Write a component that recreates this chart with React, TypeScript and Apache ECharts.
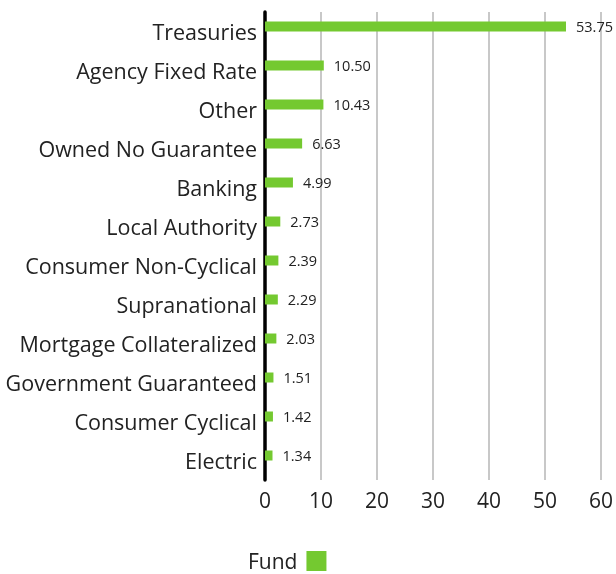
import React, { useEffect, useRef } from "react";
import * as echarts from "echarts";

const categories = [
  "Treasuries",
  "Agency Fixed Rate",
  "Other",
  "Owned No Guarantee",
  "Banking",
  "Local Authority",
  "Consumer Non-Cyclical",
  "Supranational",
  "Mortgage Collateralized",
  "Government Guaranteed",
  "Consumer Cyclical",
  "Electric",
];
const fundValues = [53.75, 10.5, 10.43, 6.63, 4.99, 2.73, 2.39, 2.29, 2.03, 1.51, 1.42, 1.34];
const xTicks = { min: 0, max: 60, interval: 10 };

const GREEN = "#74c930";
const FONT = "Open Sans";

export default function App() {
  const ref = useRef<HTMLDivElement>(null);
  useEffect(() => {
    if (!ref.current) return;
    const chart = echarts.init(ref.current, null, { renderer: "svg" });
    chart.setOption({
      animation: false,
      textStyle: { fontFamily: FONT },
      grid: { left: 265, right: 12.6, top: 12, bottom: 94, containLabel: false },
      legend: {
        data: ["Fund"],
        left: 248,
        top: 550,
        padding: 0,
        align: "right",
        itemWidth: 20,
        itemHeight: 20,
        itemGap: 8,
        icon: "rect",
        textStyle: { fontSize: 21, color: "#222", fontFamily: FONT, lineHeight: 20, padding: [2, 4, 0, 0] },
      },
      xAxis: {
        type: "value",
        min: xTicks.min,
        max: xTicks.max,
        interval: xTicks.interval,
        axisLine: { show: false },
        axisTick: { show: false },
        axisLabel: { fontSize: 21, color: "#222", margin: 9, fontFamily: FONT },
        splitLine: { show: true, lineStyle: { color: "#c8c8c8", width: 2 } },
      },
      yAxis: {
        type: "category",
        inverse: true,
        data: categories,
        axisLine: { show: true, lineStyle: { color: "#000", width: 3.5 } },
        axisTick: { show: false },
        axisLabel: { fontSize: 21.5, color: "#222", margin: 8, fontFamily: FONT },
        splitLine: { show: false },
      },
      series: [
        {
          name: "Fund",
          type: "bar",
          data: fundValues,
          barWidth: 10,
          barGap: 0,
          itemStyle: { color: GREEN },
          label: {
            show: true,
            position: "right",
            distance: 10,
            fontSize: 14.5,
            color: "#222",
            fontFamily: FONT,
            formatter: (p: any) => Number(p.value).toFixed(2),
          },
        },
        {
          name: "Benchmark",
          type: "bar",
          data: categories.map(() => null),
          barWidth: 10,
          barGap: 0,
          itemStyle: { color: "transparent" },
        },
      ],
    });
    return () => chart.dispose();
  }, []);
  return <div ref={ref} style={{ position: "fixed", left: 0, top: 0, width: 616, height: 574 }} />;
}
